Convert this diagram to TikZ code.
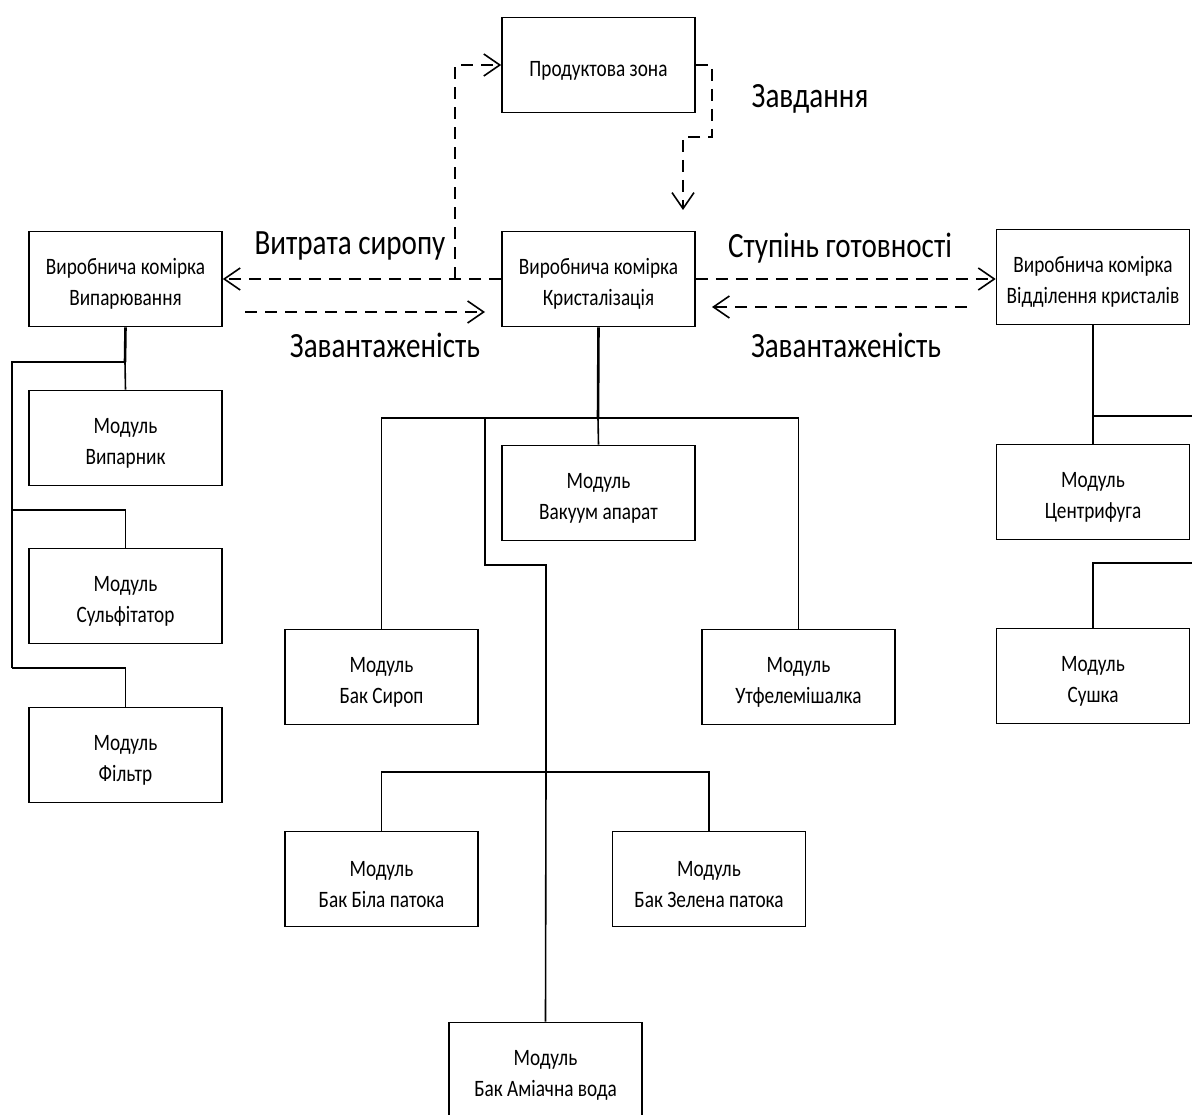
\documentclass[tikz,border=0pt]{standalone}
\usepackage{fontspec}
\setmainfont{Carlito}[FakeStretch=0.82]
\usetikzlibrary{arrows.meta}
% taller first line: lowers the text block inside a box a little
\newcommand{\toprule}{\rule{0pt}{26pt}}
\begin{document}
\begin{tikzpicture}[x=1pt,y=-1pt,
  box/.style={draw, line width=1.6pt, minimum width=193pt, minimum height=95pt,
    inner sep=0pt, align=center, font=\fontsize{23.5}{31.5}\selectfont},
  wire/.style={line width=1.6pt},
  trunk/.style={line width=2.6pt},
  flow/.style={line width=1.6pt, dash pattern=on 12pt off 8pt},
  tip/.style={-{Straight Barb[length=16pt,width=22pt,line width=1.6pt]}},
  lbl/.style={font=\fontsize{35.5}{35.5}\selectfont, inner sep=0pt}]
\useasboundingbox (0,0) rectangle (1192,1115);

% cells
\node[box] (pz) at (598.5,65) {\toprule Продуктова зона};
\node[box] (kr) at (598.5,279) {\toprule Виробнича комірка\\Кристалізація};
\node[box] (vp) at (125.5,279) {\toprule Виробнича комірка\\Випарювання};
\node[box] (vk) at (1093,277) {\toprule Виробнича комірка\\Відділення кристалів};

% modules
\node[box] (vpar) at (125.5,438) {\toprule Модуль\\Випарник};
\node[box] (sulf) at (125.5,596) {\toprule Модуль\\Сульфітатор};
\node[box] (filt) at (125.5,755) {\toprule Модуль\\Фільтр};
\node[box] (vak)  at (598.5,493) {\toprule Модуль\\Вакуум апарат};
\node[box] (syr)  at (381.5,677) {\toprule Модуль\\Бак Сироп};
\node[box] (utf)  at (798.5,677) {\toprule Модуль\\Утфелемішалка};
\node[box] (bila) at (381.5,879) {\toprule Модуль\\Бак Біла патока};
\node[box] (zel)  at (709,879) {\toprule Модуль\\Бак Зелена патока};
\node[box] (amm)  at (545.5,1070) {\toprule Модуль\\Бак Аміачна вода};
\node[box] (cen)  at (1093,492) {\toprule Модуль\\Центрифуга};
\node[box] (sus)  at (1093,676) {\toprule Модуль\\Сушка};

% junction points
\coordinate (lb) at (125,362);
\coordinate (cb) at (598,418);
\coordinate (cl) at (485,418);
\coordinate (tb) at (546,772);
\coordinate (rb) at (1093,416);
\coordinate (rs) at (1093,563);

% evaporation tree
\draw[trunk] (vp.south) -- (lb);
\draw[wire] (lb) -- (12,362) -- (12,668);
\draw[wire] (lb) -- (vpar.north);
\draw[wire] (12,510) -| (sulf.north);
\draw[wire] (12,668) -| (filt.north);

% crystallisation tree
\draw[trunk] (kr.south) -- (cb);
\draw[wire] (cb) -| (syr.north);
\draw[wire] (cb) -| (utf.north);
\draw[wire] (cb) -- (vak.north);
\draw[trunk] (cl) -- (485,565) -- (546,565) -- (tb);
\draw[wire] (tb) -| (bila.north);
\draw[wire] (tb) -| (zel.north);
\draw[wire] (tb) -- (amm.north);

% crystal separation tree
\draw[trunk] (vk.south) -- (rb);
\draw[wire] (rb) -- (1196,416);
\draw[wire] (rb) -- (cen.north);
\draw[wire] (1196,563) -- (rs) -- (sus.north);

% information flows
\draw[flow,tip] (kr.west) -- (vp.east);
\draw[flow,tip] (455,279) -- (455,65) -- (pz.west);
\draw[flow,tip] (pz.east) -- (712,65) -- (712,137) -- (683,137) -- (683,210);
\draw[flow,tip] (245,312) -- (485,312);
\draw[flow,tip] (kr.east) -- (kr.east -| vk.west);
\draw[flow,tip] (967,307) -- (712,307);

% flow labels
\node[lbl] (l1) at (810,99) {Завдання};
\node[lbl] (l2) at (350,246) {Витрата сиропу};
\node[lbl] (l3) at (385,345) {Завантаженість};
\node[lbl] (l4) at (840,248) {Ступінь готовності};
\node[lbl] (l5) at (846,345) {Завантаженість};
\end{tikzpicture}
\end{document}
